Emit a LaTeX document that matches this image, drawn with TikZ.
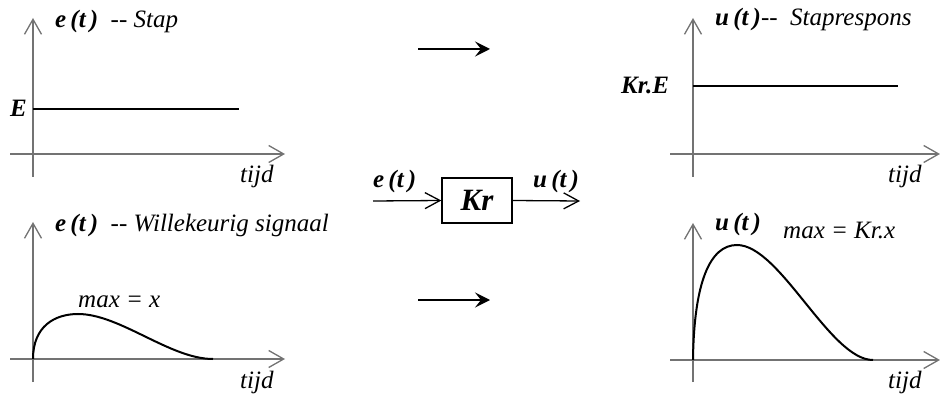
\documentclass[tikz,border=0pt]{standalone}
\usepackage{fontspec}
\setmainfont{Liberation Serif}[ItalicFont={Liberation Serif Italic},BoldFont={Liberation Serif Bold},BoldItalicFont={Liberation Serif Bold Italic}]
\usetikzlibrary{arrows.meta}
\begin{document}
\begin{tikzpicture}[x=1pt,y=-1pt,
  axis/.style={draw=black!55,line width=1.4pt,-{Straight Barb[length=15pt,width=17pt,line width=1.3pt]}},
  sig/.style={draw=black,line width=2pt},
  flow/.style={draw=black,line width=1.3pt,-{Straight Barb[length=15pt,width=16pt,line width=1.3pt]}},
  bigarrow/.style={draw=black,line width=1.8pt,-{Stealth[length=15pt,width=15pt,inset=6pt]}},
  lbl/.style={inner sep=0pt,anchor=base west,font=\fontsize{25}{28}\selectfont\itshape},
  blbl/.style={inner sep=0pt,anchor=base west,font=\fontsize{25}{28}\selectfont\bfseries\itshape},
  blockbox/.style={draw=black,line width=1.3pt,minimum width=70pt,minimum height=45pt,inner sep=0pt,font=\fontsize{31}{34}\selectfont\bfseries\itshape}
]
\useasboundingbox (0,0) rectangle (940,398);
% ---------- top-left: step input ----------
\coordinate (tlYb) at (33,177); \coordinate (tlYt) at (33,18);
\coordinate (tlXl) at (10,154); \coordinate (tlXr) at (285,154);
\draw[axis] (tlYb) -- (tlYt);
\draw[axis] (tlXl) -- (tlXr);
\coordinate (tlE0) at (33,109); \coordinate (tlE1) at (239,109);
\draw[sig] (tlE0) -- (tlE1);
\node[blbl] (tlE) at (10,117) {E};
\node[lbl] (tlT) at (55,28) {\textbf{e\,(t\,)}\ \ -{}- Stap};
\node[lbl] (tlX) at (240,183) {tijd};
% ---------- bottom-left: arbitrary input ----------
\coordinate (blYb) at (33,382); \coordinate (blYt) at (33,222);
\coordinate (blXl) at (10,359); \coordinate (blXr) at (285,359);
\draw[axis] (blYb) -- (blYt);
\draw[axis] (blXl) -- (blXr);
\coordinate (bl0) at (33,359); \coordinate (blM) at (78,314); \coordinate (bl1) at (213,359);
\draw[sig] (bl0) .. controls (33,326) and (55,314) .. (blM) .. controls (120,314) and (170,359) .. (bl1);
\node[lbl] (blT) at (55,232) {\textbf{e\,(t\,)}\ \ -{}- Willekeurig signaal};
\node[lbl] (blMax) at (78,307) {max = x};
\node[lbl] (blX) at (240,388) {tijd};
% ---------- middle ----------
\coordinate (a1s) at (418,49); \coordinate (a1e) at (490,49);
\draw[bigarrow] (a1s) -- (a1e);
\coordinate (a2s) at (418,300); \coordinate (a2e) at (490,300);
\draw[bigarrow] (a2s) -- (a2e);
\node[blockbox] (kr) at (477,200.5) {Kr};
\coordinate (in) at (373,201); \coordinate (out) at (580,201);
\draw[flow] (in) -- (kr.west);
\draw[flow] (kr.east) -- (out);
\node[blbl] (inL) at (373,188) {e\,(t\,)};
\node[blbl] (outL) at (533,188) {u\,(t\,)};
% ---------- top-right: step response ----------
\coordinate (trYb) at (693,177); \coordinate (trYt) at (693,18);
\coordinate (trXl) at (670,154); \coordinate (trXr) at (940,154);
\draw[axis] (trYb) -- (trYt);
\draw[axis] (trXl) -- (trXr);
\coordinate (trE0) at (693,86); \coordinate (trE1) at (898,86);
\draw[sig] (trE0) -- (trE1);
\node[blbl] (trKE) at (621,94) {Kr.E};
\node[lbl] (trT) at (715,26) {\textbf{u\,(t\,)}-{}-\ \ Staprespons};
\node[lbl] (trX) at (888,183) {tijd};
% ---------- bottom-right: response ----------
\coordinate (brYb) at (693,382); \coordinate (brYt) at (693,223);
\coordinate (brXl) at (670,360); \coordinate (brXr) at (940,360);
\draw[axis] (brYb) -- (brYt);
\draw[axis] (brXl) -- (brXr);
\coordinate (br0) at (693,360); \coordinate (brM) at (737,245); \coordinate (br1) at (873,360);
\draw[sig] (br0) .. controls (694,282) and (710,245) .. (brM) .. controls (780,245) and (830,360) .. (br1);
\node[blbl] (brU) at (715,231) {u\,(t\,)};
\node[lbl] (brMax) at (783,239) {max = Kr.x};
\node[lbl] (brX) at (888,388) {tijd};
\end{tikzpicture}
\end{document}
